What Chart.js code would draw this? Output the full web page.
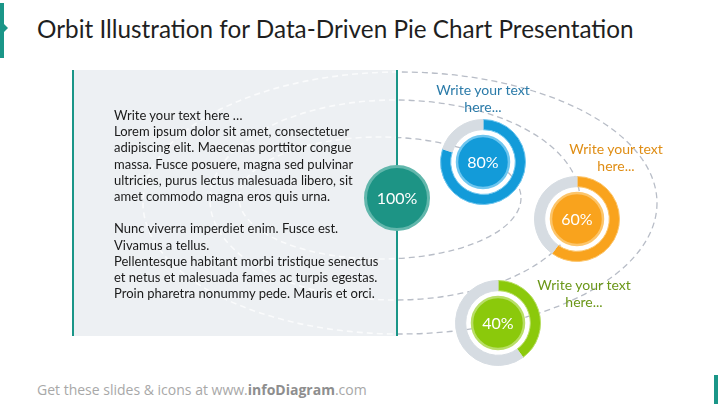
<!DOCTYPE html>
<html>
<head>
<meta charset="utf-8">
<script src="https://cdn.jsdelivr.net/npm/chart.js"></script>
<style>
  html, body { margin: 0; padding: 0; background: #fff; }
  #slide { position: relative; width: 718px; height: 404px; overflow: hidden; font-family: 'Lato', 'Noto Sans', sans-serif; }
  .abs { position: absolute; }
  #title { left: 37px; top: 14px; font-size: 24.3px; color: #1f1f1f; white-space: nowrap; }
  #tab { left: 0; top: 3px; width: 4px; height: 55px; background: #1a9688; }
  #tabTip { left: 3px; top: 23px; width: 0; height: 0; border-top: 5px solid transparent; border-bottom: 5px solid transparent; border-left: 5px solid #1a9688; }
  #cornerBar { left: 714px; top: 375px; width: 4px; height: 29px; background: #1a9688; }
  #panel { left: 74px; top: 70px; width: 323px; height: 266px; background: #edf0f3; }
  .vline { width: 2px; height: 266px; top: 70px; background: #1a9688; z-index: 3; }
  #body { left: 114px; top: 107px; font-size: 13px; line-height: 16.2px; color: #1a1a1a; white-space: nowrap; z-index: 2; }
  .label { width: 140px; text-align: center; font-size: 14px; line-height: 17px; z-index: 5; white-space: nowrap; }
  #footer { left: 37px; top: 380px; font-size: 14px; color: #a8a8a8; white-space: nowrap; font-family: 'Open Sans', sans-serif; }
  #footer b { color: #8e8e8e; }
  canvas.chart { position: absolute; z-index: 4; }
  #orbits { position: absolute; left: 0; top: 0; z-index: 1; }
</style>
</head>
<body>
<div id="slide">
  <div id="tab" class="abs"></div>
  <div id="tabTip" class="abs"></div>
  <div id="title" class="abs">Orbit Illustration for Data-Driven Pie Chart Presentation</div>
  <div id="panel" class="abs"></div>
  <canvas id="orbits" width="718" height="404"></canvas>
  <div class="abs vline" style="left:72px"></div>
  <div class="abs vline" style="left:396px"></div>
  <div id="body" class="abs">
    Write your text here …<br>
    Lorem ipsum dolor sit amet, consectetuer<br>
    adipiscing elit. Maecenas porttitor congue<br>
    massa. Fusce posuere, magna sed pulvinar<br>
    ultricies, purus lectus malesuada libero, sit<br>
    amet commodo magna eros quis urna.<br>
    <br>
    Nunc viverra imperdiet enim. Fusce est.<br>
    Vivamus a tellus.<br>
    Pellentesque habitant morbi tristique senectus<br>
    et netus et malesuada fames ac turpis egestas.<br>
    Proin pharetra nonummy pede. Mauris et orci.
  </div>
  <div id="footer" class="abs">Get these slides &amp; icons at www.<b>infoDiagram</b>.com</div>
  <div id="cornerBar" class="abs"></div>
</div>

<script>
// data
const coreValue = 100;
const ringNames = ['Write your text here...', 'Write your text here...', 'Write your text here...'];
const ringValues = [80, 60, 40];

// layout / style
const ringCenters = [[483, 162], [577, 219], [498, 323]];
const ringColors = ['#139bd9', '#f9a31d', '#8bc90b'];
const ringEdges = ['#6fc6ef', '#fcc56b', '#b8de66'];
const labelColors = ['#2b7ba9', '#df8d14', '#6b9718'];
const labelCenters = [[483, 81], [616, 140], [584, 276]];
const restColor = '#d6dce2';
const coreCenter = [397, 198];

const slide = document.getElementById('slide');

// orbit paths (decoration, not data)
(function drawOrbits() {
    const c = document.getElementById('orbits');
    const ctx = c.getContext('2d');
    const orbits = [
        { x: 380, y: 198, rx: 141, ry: 61 },
        { x: 395, y: 200, rx: 185, ry: 100 },
        { x: 400, y: 203, rx: 257, ry: 131 }
    ];
    const pass = (inside) => {
        orbits.forEach(o => {
            ctx.save();
            ctx.beginPath();
            if (inside) ctx.rect(74, 70, 323, 266);
            else { ctx.rect(0, 0, 718, 404); ctx.rect(74, 70, 323, 266); }
            ctx.clip('evenodd');
            ctx.beginPath();
            ctx.ellipse(o.x, o.y, o.rx, o.ry, 0, 0, Math.PI * 2);
            ctx.setLineDash([6, 4]);
            ctx.lineWidth = inside ? 1.6 : 1.3;
            ctx.strokeStyle = inside ? 'rgba(255,255,255,0.7)' : '#b8bdc7';
            ctx.stroke();
            ctx.restore();
        });
    };
    pass(true);
    pass(false);
})();

const centerDisc = {
    id: 'centerDisc',
    afterDraw(chart) {
        const opts = chart.options.plugins.centerDisc;
        const { ctx } = chart;
        const meta = chart.getDatasetMeta(0);
        if (!meta.data.length) return;
        const x = meta.data[0].x;
        const y = meta.data[0].y;
        ctx.save();
        if (opts.radius) {
            ctx.beginPath();
            ctx.arc(x, y, opts.radius, 0, Math.PI * 2);
            if (opts.fill) {
                ctx.fillStyle = opts.fill;
                ctx.fill();
            }
            ctx.lineWidth = opts.edgeWidth || 2.5;
            ctx.strokeStyle = opts.edge;
            ctx.stroke();
        }
        ctx.fillStyle = '#ffffff';
        ctx.font = '16px Lato';
        ctx.textAlign = 'center';
        ctx.textBaseline = 'middle';
        ctx.fillText(opts.text, x, y + 1);
        ctx.restore();
    }
};

function makeCanvas(cx, cy, size) {
    const cv = document.createElement('canvas');
    cv.className = 'chart';
    cv.width = size;
    cv.height = size;
    cv.style.left = (cx - size / 2) + 'px';
    cv.style.top = (cy - size / 2) + 'px';
    cv.style.width = size + 'px';
    cv.style.height = size + 'px';
    slide.appendChild(cv);
    return cv;
}

// core 100% disc
new Chart(makeCanvas(coreCenter[0], coreCenter[1], 70), {
    type: 'pie',
    data: {
        labels: ['Total'],
        datasets: [{
            data: [coreValue],
            backgroundColor: '#1d9485',
            borderWidth: 0
        }]
    },
    options: {
        responsive: false,
        animation: false,
        layout: { padding: 3 },
        plugins: {
            legend: { display: false },
            tooltip: { enabled: false },
            centerDisc: { text: coreValue + '%', radius: 31.5, edge: '#62b7ac', edgeWidth: 3 }
        }
    },
    plugins: [centerDisc]
});

// the three orbit rings
ringValues.forEach((v, i) => {
    new Chart(makeCanvas(ringCenters[i][0], ringCenters[i][1], 88), {
        type: 'doughnut',
        data: {
            labels: ['Done', 'Rest'],
            datasets: [{
                data: [v, 100 - v],
                backgroundColor: [ringColors[i], restColor],
                borderColor: [ringEdges[i], restColor],
                borderWidth: 1
            }]
        },
        options: {
            responsive: false,
            animation: false,
            cutout: '76%',
            layout: { padding: 1 },
            plugins: {
                legend: { display: false },
                tooltip: { enabled: false },
                centerDisc: { text: v + '%', radius: 26, fill: ringColors[i], edge: ringEdges[i] }
            }
        },
        plugins: [centerDisc]
    });

    const lb = document.createElement('div');
    lb.className = 'abs label';
    lb.style.left = (labelCenters[i][0] - 70) + 'px';
    lb.style.top = labelCenters[i][1] + 'px';
    lb.style.color = labelColors[i];
    const words = ringNames[i].split(' ');
    lb.innerHTML = words.slice(0, 3).join(' ') + '<br>' + words.slice(3).join(' ');
    slide.appendChild(lb);
});
</script>
</body>
</html>
